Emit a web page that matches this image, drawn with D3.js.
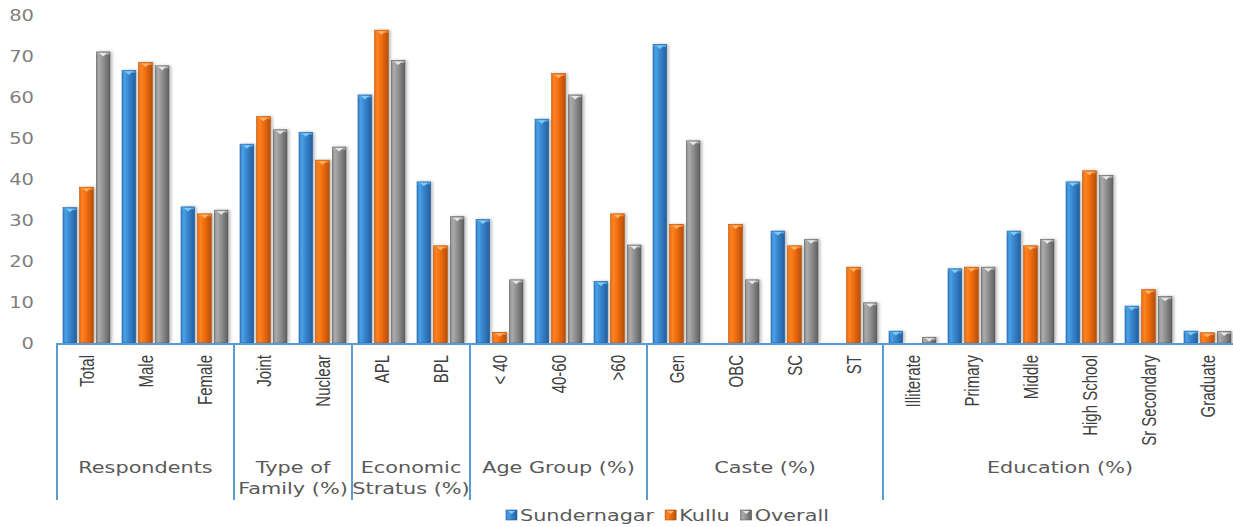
<!DOCTYPE html>
<meta charset="utf-8">
<head>
  <title>Respondent profile</title>
</head>
<style>
  html, body {
    margin: 0;
    padding: 0;
    background: #fff;
    overflow: hidden;
  }
  text.ylab { font-family: "DejaVu Sans", sans-serif; font-size: 15px; fill: #7f7f7f; }
  text.cat { font-family: "Liberation Sans", Arial, sans-serif; font-size: 15px; fill: #404040; }
  text.grp { font-family: "DejaVu Sans", sans-serif; font-size: 16px; fill: #595959; }
  text.leg { font-family: "DejaVu Sans", sans-serif; font-size: 16px; fill: #595959; }
</style>
<body>
<script src="https://cdn.jsdelivr.net/npm/d3@7"></script>
<script>
var categories = ['Total', 'Male', 'Female', 'Joint', 'Nuclear', 'APL', 'BPL',
  '< 40', '40-60', '>60', 'Gen', 'OBC', 'SC', 'ST',
  'Illiterate', 'Primary', 'Middle', 'High School', 'Sr Secondary', 'Graduate'];

var groups = [
  {lines: ['Respondents'], size: 3},
  {lines: ['Type of', 'Family (%)'], size: 2},
  {lines: ['Economic', 'Stratus (%)'], size: 2},
  {lines: ['Age Group (%)'], size: 3},
  {lines: ['Caste (%)'], size: 4},
  {lines: ['Education (%)'], size: 6}
];

var sundernagar = [33, 66.5, 33.2, 48.5, 51.4, 60.5, 39.3, 30.1, 54.6, 15, 72.8, 0, 27.3, 0, 2.9, 18.1, 27.3, 39.3, 9, 2.9];
var kullu       = [38, 68.4, 31.5, 55.2, 44.6, 76.3, 23.7, 2.6, 65.7, 31.5, 28.9, 28.9, 23.7, 18.5, 0, 18.5, 23.7, 42, 13, 2.5];
var overall     = [71, 67.6, 32.4, 52, 47.8, 68.9, 30.8, 15.4, 60.5, 23.9, 49.3, 15.4, 25.3, 9.8, 1.4, 18.5, 25.3, 40.9, 11.3, 2.8];

var seriesNames = ['Sundernagar', 'Kullu', 'Overall'];
var seriesValues = [sundernagar, kullu, overall];
var yTicks = [0, 10, 20, 30, 40, 50, 60, 70, 80];

// light, mid, dark, cap
var palette = {
  Sundernagar: ['#4aa0e4', '#3580c8', '#24609e', '#7fcaf7'],
  Kullu: ['#ff8324', '#ec6a0c', '#b44f06', '#ffb46a'],
  Overall: ['#ababab', '#8c8c8c', '#5f5f5f', '#e6e6e6']
};

var W = 1233, H = 527, SX = 1.3;
var x0min = 57, bandW = 59;

var svg = d3.select('body').append('svg')
  .attr('width', W).attr('height', H);

var defs = svg.append('defs');
seriesNames.forEach(function(s, i) {
  var c = palette[s];
  var g = defs.append('linearGradient').attr('id', 'grad' + i)
    .attr('x1', '0%').attr('x2', '100%').attr('y1', '0%').attr('y2', '0%');
  g.append('stop').attr('offset', '0%').attr('stop-color', c[1]);
  g.append('stop').attr('offset', '20%').attr('stop-color', c[0]);
  g.append('stop').attr('offset', '55%').attr('stop-color', c[1]);
  g.append('stop').attr('offset', '100%').attr('stop-color', c[2]);
});
var f = defs.append('filter').attr('id', 'shadow')
  .attr('x', '-30%').attr('y', '-5%').attr('width', '160%').attr('height', '110%');
f.append('feDropShadow').attr('dx', 2).attr('dy', 0).attr('stdDeviation', 1.5)
  .attr('flood-color', '#000').attr('flood-opacity', 0.25);

var x0 = d3.scaleBand().domain(categories)
  .range([x0min, x0min + bandW * categories.length]);
var x1 = d3.scaleBand().domain(seriesNames).range([6, 53]).paddingInner(0.18);
var y = d3.scaleLinear().domain([0, 80]).range([343, 15]);

// y tick labels (no axis line, no grid)
svg.append('g').selectAll('text').data(yTicks).enter().append('text')
  .attr('class', 'ylab')
  .attr('text-anchor', 'end')
  .attr('dy', '0.36em')
  .attr('transform', function(d) { return 'translate(34,' + (y(d) + 1) + ') scale(' + SX + ',1)'; })
  .text(function(d) { return d; });

// bars
var catG = svg.append('g').selectAll('g').data(categories).enter().append('g')
  .attr('transform', function(d) { return 'translate(' + x0(d) + ',0)'; });

var bars = catG.selectAll('g.bar').data(function(d, i) {
  return seriesNames.map(function(s, k) { return {s: s, k: k, v: seriesValues[k][i]}; });
}).enter().append('g').attr('class', 'bar')
  .filter(function(d) { return d.v > 0; });

bars.append('rect')
  .attr('x', function(d) { return x1(d.s); })
  .attr('y', function(d) { return y(d.v); })
  .attr('width', x1.bandwidth())
  .attr('height', function(d) { return y(0) - y(d.v); })
  .attr('fill', function(d) { return 'url(#grad' + d.k + ')'; })
  .attr('stroke', function(d) { return palette[d.s][2]; })
  .attr('stroke-width', 0.6)
  .attr('filter', 'url(#shadow)');

bars.append('rect')
  .attr('x', function(d) { return x1(d.s) + 0.5; })
  .attr('y', function(d) { return y(d.v) + 0.5; })
  .attr('width', x1.bandwidth() - 1)
  .attr('height', function(d) { return Math.min(2, y(0) - y(d.v)); })
  .attr('fill', function(d) { return palette[d.s][0]; });

bars.append('path')
  .attr('d', function(d) {
    var bx = x1(d.s), bw = x1.bandwidth(), ty = y(d.v) + 1;
    var cx = bx + bw / 2;
    return 'M' + (cx - 4) + ',' + ty + 'L' + (cx + 4) + ',' + ty + 'L' + cx + ',' + (ty + 3.5) + 'Z';
  })
  .attr('fill', function(d) { return palette[d.s][3]; });

// category axis line and separators
svg.append('line')
  .attr('x1', x0min).attr('x2', W).attr('y1', y(0) + 1).attr('y2', y(0) + 1)
  .attr('stroke', '#5b9bd5').attr('stroke-width', 2);

var cum = 0, bounds = [0];
groups.forEach(function(g) { cum += g.size; bounds.push(cum); });

svg.append('g').selectAll('line').data(bounds).enter().append('line')
  .attr('x1', function(b) { return x0min + b * bandW; })
  .attr('x2', function(b) { return x0min + b * bandW; })
  .attr('y1', y(0)).attr('y2', 500)
  .attr('stroke', '#5b9bd5').attr('stroke-width', 2);

// category labels (rotated)
svg.append('g').selectAll('text').data(categories).enter().append('text')
  .attr('class', 'cat')
  .attr('text-anchor', 'end')
  .attr('dy', '0.36em')
  .attr('transform', function(d) {
    return 'translate(' + (x0(d) + bandW / 2) + ',355) scale(' + SX + ',1) rotate(-90)';
  })
  .text(function(d) { return d; });

// group labels
var gl = svg.append('g').selectAll('text').data(groups).enter().append('text')
  .attr('class', 'grp')
  .attr('text-anchor', 'middle')
  .attr('transform', function(g, i) {
    var cx = x0min + (bounds[i] + g.size / 2) * bandW;
    return 'translate(' + cx + ',473) scale(' + SX + ',1)';
  });
gl.selectAll('tspan').data(function(g) { return g.lines; }).enter().append('tspan')
  .attr('x', 0)
  .attr('dy', function(d, i) { return i === 0 ? 0 : 21; })
  .text(function(d) { return d; });

// legend
var legend = svg.append('g');
var lx = 506;
seriesNames.forEach(function(s, k) {
  legend.append('rect')
    .attr('x', lx).attr('y', 510).attr('width', 11).attr('height', 10)
    .attr('fill', 'url(#grad' + k + ')')
    .attr('stroke', palette[s][2]).attr('stroke-width', 0.6);
  legend.append('path')
    .attr('d', 'M' + (lx + 2) + ',511L' + (lx + 9) + ',511L' + (lx + 5.5) + ',514Z')
    .attr('fill', palette[s][3]);
  var t = legend.append('text').attr('class', 'leg')
    .attr('transform', 'translate(' + (lx + 14) + ',521) scale(' + SX + ',1)')
    .text(s);
  lx += 14 + t.node().getComputedTextLength() * SX + 11;
});
</script>
</body>
